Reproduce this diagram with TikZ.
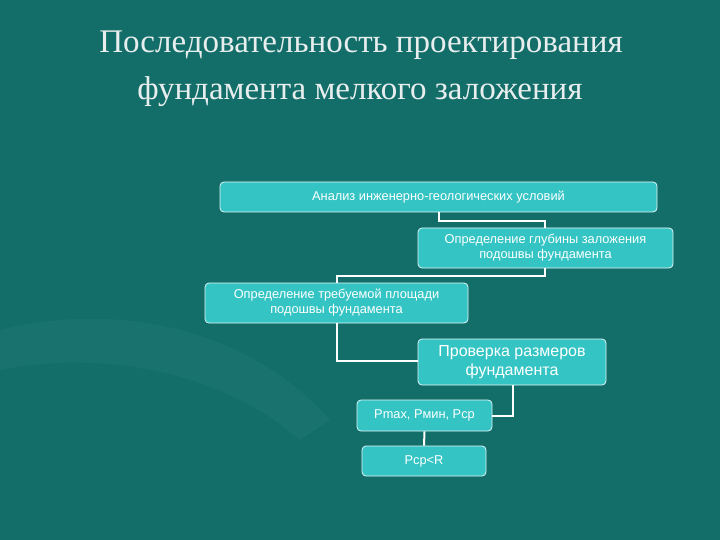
\documentclass[tikz,border=0pt]{standalone}
\usepackage{fontspec}
\setmainfont{Liberation Serif}
\newfontfamily\boxfont{Liberation Sans}
\definecolor{bg}{HTML}{136E6A}
\definecolor{boxfill}{HTML}{34C4C4}
\definecolor{titlec}{HTML}{E8EEEE}
\begin{document}
\begin{tikzpicture}[x=1pt,y=-1pt,
  bx/.style={draw=white!85!boxfill,line width=0.8pt,fill=boxfill,rounded corners=4pt,text=white,font=\boxfont\fontsize{12.8}{15}\selectfont,align=center,inner sep=0pt},
  ln/.style={draw=white,line width=2pt}]
\fill[bg] (0,0) rectangle (720,540);
\useasboundingbox (0,0) rectangle (720,540);
\fill[white,opacity=0.03] (0,330) .. controls (120,300) and (250,330) .. (330,420) -- (300,440) .. controls (220,370) and (100,350) .. (0,370) -- cycle;
\node[text=titlec,font=\fontsize{33}{38}\selectfont] (t1) at (361,45) {Последовательность проектирования};
\node[text=titlec,font=\fontsize{33}{38}\selectfont] (t2) at (360,92) {фундамента мелкого заложения};
\node[bx,minimum width=437,minimum height=30] (b1) at (438.5,197) {Анализ инженерно-геологических условий};
\node[bx,minimum width=255,minimum height=40] (b2) at (545.5,248) {Определение глубины заложения\\подошвы фундамента};
\node[bx,minimum width=263,minimum height=40] (b3) at (336.5,303) {Определение требуемой площади\\подошвы фундамента};
\node[bx,minimum width=188,minimum height=46,font=\boxfont\fontsize{16}{19}\selectfont] (b4) at (512,362) {Проверка размеров\\фундамента};
\node[bx,minimum width=135,minimum height=31] (b5) at (424.5,415.5) {Pmax, Pмин, Pср};
\node[bx,minimum width=124,minimum height=30] (b6) at (424,461) {Pср<R};
\coordinate (c1) at (439,221); \coordinate (c2) at (545,221);
\coordinate (c3) at (545,276); \coordinate (c4) at (337,276);
\coordinate (c5) at (337,361);
\coordinate (c6) at (513,416);
\draw[ln] (b1.south -| c1) -- (c1) -- (c2) -- (b2.north -| c2);
\draw[ln] (b2.south -| c3) -- (c3) -- (c4) -- (b3.north -| c4);
\draw[ln] (b3.south -| c5) -- (c5) -- (b4.west |- c5);
\draw[ln] (b4.south -| c6) -- (c6) -- (b5.east |- c6);
\draw[ln] (b5.south) -- (b6.north);
\end{tikzpicture}
\end{document}
